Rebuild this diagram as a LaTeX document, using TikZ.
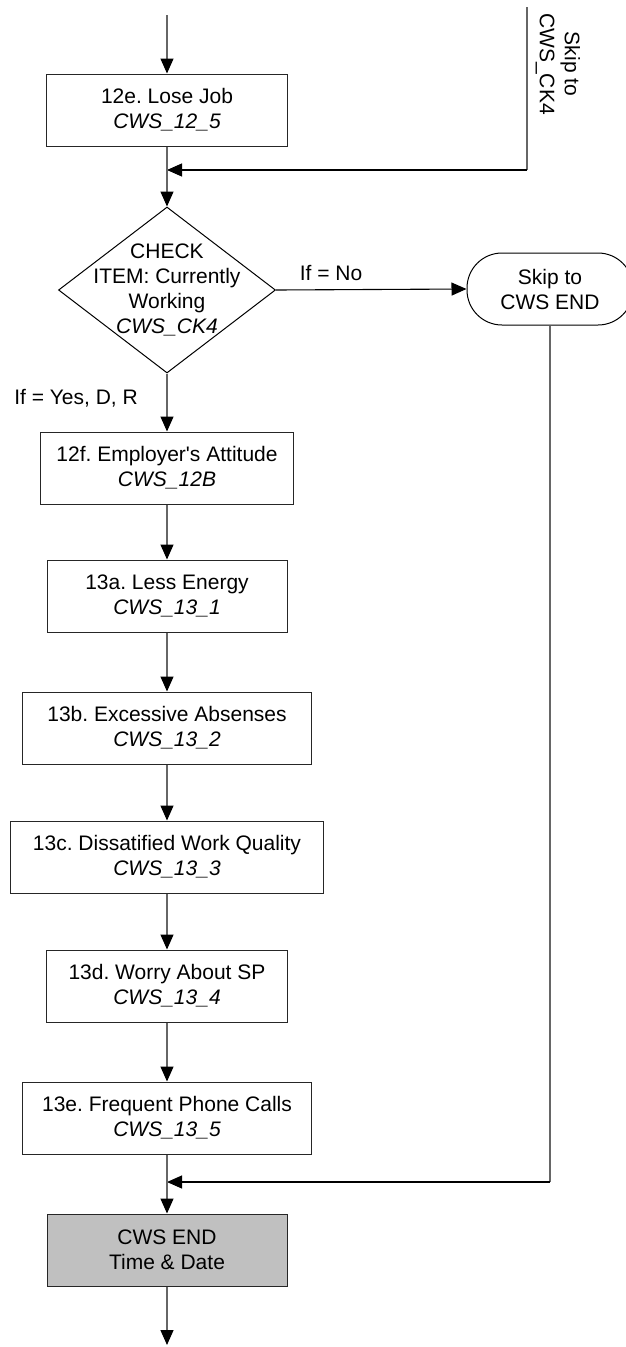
\documentclass[tikz,border=0pt]{standalone}
\usepackage{fontspec}
\setmainfont{Liberation Sans}[Ligatures=TeXOff]
\usetikzlibrary{arrows.meta,shapes.geometric}
\frenchspacing
\begin{document}
\begin{tikzpicture}[x=1pt,y=-1pt,
  txt/.style={font=\fontsize{21}{25}\selectfont\frenchspacing, align=center, inner sep=0pt},
  box/.style={txt, draw=black!85, line width=1pt, rectangle, minimum height=72pt},
  endbox/.style={box, fill={rgb,255:red,192;green,192;blue,192}},
  vline/.style={draw=black!60, line width=1.3pt},
  hline/.style={draw=black, line width=1.1pt},
  tip/.style={-{Triangle[length=15pt,width=13pt,color=black]}}
]
\useasboundingbox (0,0) rectangle (626,1347);

% boxes
\node[box, minimum width=241pt] (b12e) at (167,110) {12e. Lose Job\\\itshape CWS\_12\_5};
\node[draw=black, line width=1pt, diamond, minimum width=217pt, minimum height=166pt, inner sep=0pt] (ck) at (167,290) {};
\node[txt] (ckt) at (167,290) {CHECK\\ITEM: Currently\\Working\\\itshape CWS\_CK4};
\node[txt, draw=black, line width=1pt, rectangle, rounded corners=35pt, minimum width=166pt, minimum height=72pt] (skip) at (550,289) {Skip to\\CWS END};
\node[box, minimum width=253pt] (b12f) at (167,468) {12f. Employer's Attitude\\\itshape CWS\_12B};
\node[box, minimum width=240pt] (b13a) at (167,596) {13a. Less Energy\\\itshape CWS\_13\_1};
\node[box, minimum width=289pt] (b13b) at (167,728) {13b. Excessive Absenses\\\itshape CWS\_13\_2};
\node[box, minimum width=313pt] (b13c) at (167,857) {13c. Dissatified Work Quality\\\itshape CWS\_13\_3};
\node[box, minimum width=241pt] (b13d) at (167,986) {13d. Worry About SP\\\itshape CWS\_13\_4};
\node[box, minimum width=289pt] (b13e) at (167,1118) {13e. Frequent Phone Calls\\\itshape CWS\_13\_5};
\node[endbox, minimum width=240pt] (end) at (167,1250) {CWS END\\Time \& Date};

% labels
\node[txt, rotate=-90] (skl) at (558,64) {Skip to\\CWS\_CK4};
\node[txt] (lno) at (331,273) {If = No};
\node[txt, anchor=east] (lyes) at (138,398) {If = Yes, D, R};

% coordinates
\coordinate (top) at (167,15);
\coordinate (r1) at (527,7);
\coordinate (m1) at (167,170);
\coordinate (m2) at (167,1182);
\coordinate (bot) at (167,1345);

% connectors
\draw[vline, tip] (top) -- (b12e.north);
\draw[vline] (r1) -- (r1 |- m1);
\draw[hline, tip] (r1 |- m1) -- (m1);
\draw[vline, tip] (b12e.south) -- (ck.north);
\draw[hline, tip] (ck.east) -- (skip.west);
\draw[vline, tip] (ck.south) -- (b12f.north);
\draw[vline, tip] (b12f.south) -- (b13a.north);
\draw[vline, tip] (b13a.south) -- (b13b.north);
\draw[vline, tip] (b13b.south) -- (b13c.north);
\draw[vline, tip] (b13c.south) -- (b13d.north);
\draw[vline, tip] (b13d.south) -- (b13e.north);
\draw[vline] (skip.south) -- (skip.south |- m2);
\draw[hline, tip] (skip.south |- m2) -- (m2);
\draw[vline, tip] (b13e.south) -- (end.north);
\draw[vline, tip] (end.south) -- (bot);
\end{tikzpicture}
\end{document}
